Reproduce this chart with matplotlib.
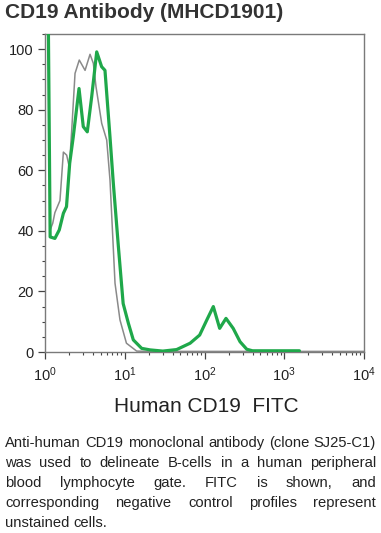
import numpy as np
import matplotlib
matplotlib.use("Agg")
import matplotlib.pyplot as plt
from matplotlib.ticker import LogLocator, MultipleLocator, LogFormatterMathtext

plt.rcParams['font.family'] = ['Liberation Sans', 'DejaVu Sans']
plt.rcParams['mathtext.fontset'] = 'custom'
plt.rcParams['mathtext.rm'] = 'Liberation Sans'

# negative control (unstained), grey
ctrl_x = [1.16, 1.25, 1.33, 1.54, 1.70, 1.87, 2.02, 2.16, 2.38, 2.69, 3.18, 3.67,
          4.04, 4.36, 5.14, 5.94, 6.53, 7.55, 8.71, 10.5, 14.1, 20, 100, 1000, 10000]
ctrl_y = [40.3, 42.5, 46, 50, 66, 65, 61, 73, 92, 96.4, 93, 98.3,
          95.3, 87.6, 75.5, 70, 56.8, 22.7, 10.6, 2.9, 0.3, 0.2, 0.2, 0.2, 0.2]

# CD19 FITC stained, green
cd19_x = [1.10, 1.16, 1.33, 1.51, 1.70, 1.86, 2.04, 2.26, 2.67, 3.02, 3.39, 3.85,
          4.45, 5.13, 5.65, 6.53, 7.19, 8.32, 9.55, 11.1, 12.8, 16.3, 20.7, 30,
          44.7, 66, 87, 107, 129, 155, 186, 229, 279, 339, 400, 1550]
cd19_y = [110, 38, 37.5, 40.3, 45.8, 48, 62.3, 71, 87, 74.4, 72.7, 84.3,
          99.1, 94.2, 93, 71, 55.7, 34.8, 16, 9.5, 4, 1.2, 0.7, 0.3,
          0.8, 2.9, 5.6, 10.6, 15, 7.8, 11.1, 7.8, 3.4, 0.9, 0.4, 0.4]

caption_lines = [
    "Anti-human CD19 monoclonal antibody (clone SJ25-C1)",
    "was used to delineate B-cells in a human peripheral",
    "blood lymphocyte gate. FITC is shown, and",
    "corresponding negative control profiles represent",
    "unstained cells.",
]

W, H = 381, 533
fig = plt.figure(figsize=(W / 100, H / 100), dpi=100)
ax = fig.add_axes([45 / W, (H - 352) / H, 319 / W, 318 / H])

ax.plot(ctrl_x, ctrl_y, color='#8a8a8a', lw=1.1, zorder=2)
ax.plot(cd19_x, cd19_y, color='#1fa84a', lw=2.3, zorder=3,
        solid_joinstyle='round', solid_capstyle='round')

ax.set_xscale('log')
ax.set_xlim(1, 10000)
ax.set_ylim(0, 105)
ax.xaxis.set_major_locator(LogLocator(base=10))
ax.xaxis.set_minor_locator(LogLocator(base=10, subs=np.arange(2, 10)))
ax.xaxis.set_major_formatter(LogFormatterMathtext())
ax.yaxis.set_major_locator(MultipleLocator(20))
ax.yaxis.set_minor_locator(MultipleLocator(5))

for s in ax.spines.values():
    s.set_color('#7a7a7a')
    s.set_linewidth(1.0)
ax.tick_params(which='major', direction='out', length=5, width=0.9, color='#444444',
               labelsize=10.5, labelcolor='#222222')
ax.tick_params(axis='x', which='major', pad=5)
ax.tick_params(axis='y', which='major', pad=3)
ax.tick_params(which='minor', direction='out', length=2.5, width=0.8, color='#444444')
ax.tick_params(top=False, right=False, which='both')

fig.text(206 / W, 1 - 411.7 / H, 'Human CD19  FITC', fontsize=15, color='#222222',
         ha='center', va='baseline')

fig.text(5 / W, 1 - 17.5 / H, 'CD19 Antibody (MHCD1901)', fontsize=15,
         fontweight='bold', color='#333333', va='baseline', ha='left')

# justified caption
fig.canvas.draw()
r = fig.canvas.get_renderer()
left, right = 5, 376
probe = fig.text(0, 0, caption_lines[0], fontsize=10)
fs = 10 * 367 / probe.get_window_extent(r).width
probe.remove()
sp = fig.text(0, 0, 'a b', fontsize=fs)
sa = fig.text(0, 0, 'ab', fontsize=fs)
space = sp.get_window_extent(r).width - sa.get_window_extent(r).width
sp.remove()
sa.remove()
for i, line in enumerate(caption_lines):
    base = 446.7 + 20 * i
    words = line.split()
    texts = [fig.text(0, 1 - base / H, w, fontsize=fs, color='#222222', va='baseline')
             for w in words]
    widths = [t.get_window_extent(r).width for t in texts]
    if i < len(caption_lines) - 1:
        gap = (right - left - sum(widths)) / (len(words) - 1)
    else:
        gap = space
    x = left
    for t, w in zip(texts, widths):
        t.set_x(x / W)
        x += w + gap

fig.savefig('out.png', dpi=100)
